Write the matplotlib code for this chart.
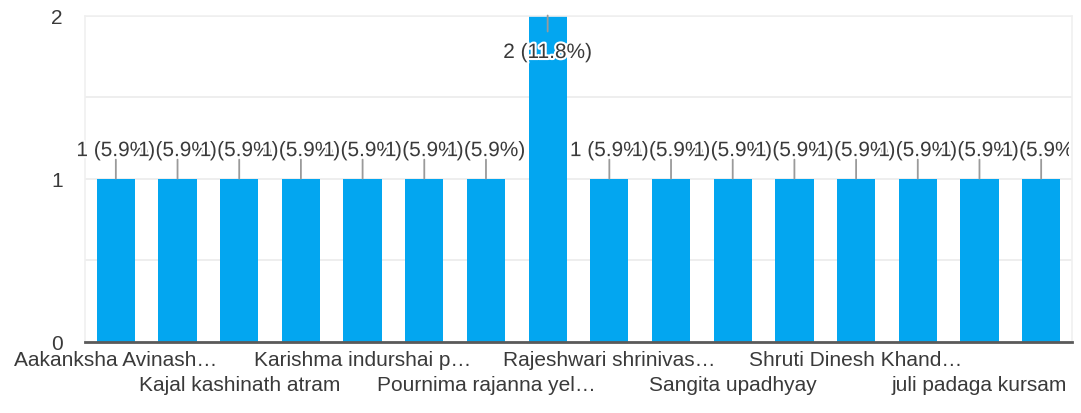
import matplotlib
matplotlib.use("Agg")
import matplotlib.pyplot as plt
import matplotlib.patheffects as pe
from matplotlib.transforms import Bbox, TransformedBbox

# Responses per name (16 entries, every second name is labelled on the axis)
tick_labels = [
    "Aakanksha Avinash…", "",
    "Kajal kashinath atram", "",
    "Karishma indurshai p…", "",
    "Pournima rajanna yel…", "",
    "Rajeshwari shrinivas…", "",
    "Sangita upadhyay", "",
    "Shruti Dinesh Khand…", "",
    "juli padaga kursam", "",
]
counts = [1, 1, 1, 1, 1, 1, 1, 2, 1, 1, 1, 1, 1, 1, 1, 1]
total_responses = 17
y_ticks = [0, 1, 2]

plt.rcParams["font.family"] = ["Liberation Sans", "DejaVu Sans"]

W, H = 1081, 414
fig = plt.figure(figsize=(W / 100, H / 100), dpi=100)
left, right, top, bottom = 85, 1072, 16.5, 342.7
ax = fig.add_axes([left / W, 1 - bottom / H, (right - left) / W, (bottom - top) / H])

BAR = "#03a6f0"
TEXT = "#3a3a3a"
GRID = "#ebebeb"

x = list(range(len(counts)))
ax.bar(x, counts, width=0.62, color=BAR, zorder=2)

ax.set_xlim(-0.5, len(counts) - 0.5)
ax.set_ylim(0, max(y_ticks))
ax.set_yticks(y_ticks)
ax.set_yticklabels([str(t) for t in y_ticks])
ax.set_yticks([0.5, 1.5], minor=True)
ax.grid(axis="y", which="both", color=GRID, lw=1.2, zorder=0)
ax.tick_params(axis="y", which="both", length=0, pad=16, labelsize=15, labelcolor=TEXT)

# Axis names alternate between two rows
shown = [lab for lab in tick_labels]
row = 0
for i, lab in enumerate(tick_labels):
    if lab:
        if row % 2 == 1:
            shown[i] = "\n" + lab
        row += 1
ax.set_xticks(x)
ax.set_xticklabels(shown)
ax.tick_params(axis="x", length=0, pad=6, labelsize=15, labelcolor=TEXT)
for t in ax.get_xticklabels():
    t.set_linespacing(1.4)

for side in ("left", "right", "top"):
    ax.spines[side].set_color("#f0f0f0")
    ax.spines[side].set_linewidth(1.2)
ax.spines["bottom"].set_color("#5a5a5a")
ax.spines["bottom"].set_linewidth(2)
ax.spines["bottom"].set_zorder(3)

clip = TransformedBbox(Bbox([[0, 0], [1069 / W, 1]]), fig.transFigure)
halo = [pe.withStroke(linewidth=3, foreground="white")]

ymax = max(y_ticks)
for xi, v in zip(x, counts):
    pct = v / total_responses * 100
    label = f"{v} ({pct:.1f}%)"
    if v >= ymax:
        stem_end, text_off = -16, -37
    else:
        stem_end, text_off = 19, 28
    ax.annotate("", xy=(xi, v), xytext=(0, stem_end), textcoords="offset pixels",
                arrowprops=dict(arrowstyle="-", color="#9a9a9a", lw=1.3,
                                shrinkA=0, shrinkB=0),
                zorder=4, annotation_clip=False)
    t = ax.annotate(label, xy=(xi, v), xytext=(0, text_off), textcoords="offset pixels",
                    ha="center", va="center", fontsize=15, color=TEXT,
                    path_effects=halo, zorder=5, annotation_clip=False)
    t.set_clip_box(clip)
    t.set_clip_on(True)

fig.savefig("out.png", dpi=100, facecolor="white")
